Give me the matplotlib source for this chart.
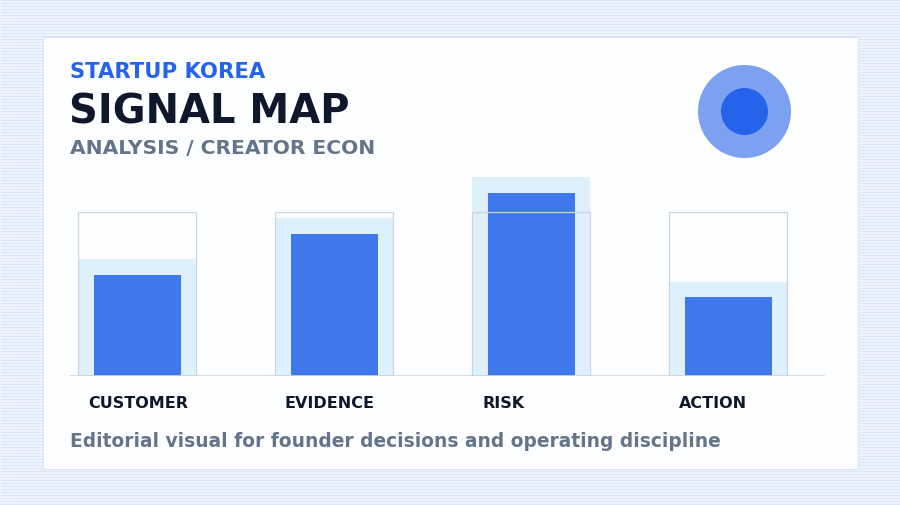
import matplotlib
matplotlib.use("Agg")
import matplotlib.pyplot as plt
from matplotlib.patches import Rectangle, Circle

plt.rcParams["font.family"] = ["DejaVu Sans"]

# ---- data ----
categories = ["CUSTOMER", "EVIDENCE", "RISK", "ACTION"]
signal = [61, 86, 111, 48]        # dark bars
band = [71, 96, 121, 57]          # light halo band
target = [100, 100, 100, 100]     # outlined frame
kicker = "STARTUP KOREA"
title = "SIGNAL MAP"
subtitle = "ANALYSIS / CREATOR ECON"
footer = "Editorial visual for founder decisions and operating discipline"

W, H = 900, 506
fig = plt.figure(figsize=(W / 100, H / 100), dpi=100)
fig.patch.set_facecolor("#f3f8fe")

def fx(px):
    return px / W

def fy(py):
    return 1 - py / H

# background stripes
bg = fig.add_axes([0, 0, 1, 1], zorder=0)
bg.set_xlim(0, W)
bg.set_ylim(H, 0)
bg.axis("off")
bg.hlines([y + 0.5 for y in range(0, H, 3)], 0, W, color="#dae8fb", lw=1.0)
# card
bg.add_patch(Rectangle((42.5, 37.5), 815, 432, facecolor="#fdfeff",
                       edgecolor="#dde6f1", lw=0.8, zorder=2))
# decorative circle
bg.add_patch(Circle((744.5, 112.5), 46.5, color="#7ba1f0", lw=0, zorder=3))
bg.add_patch(Circle((744.5, 112.5), 23.5, color="#2563eb", lw=0, zorder=4))

# texts
fig.text(fx(70), fy(77.7), kicker, color="#2563eb", fontsize=15.2,
         fontweight="bold", va="baseline", ha="left", zorder=5)
fig.text(fx(69), fy(123.5), title, color="#0f172a", fontsize=28.8,
         fontweight="bold", va="baseline", ha="left", zorder=5)
fig.text(fx(70), fy(154.2), subtitle, color="#64748b", fontsize=14.6,
         fontweight="bold", va="baseline", ha="left", zorder=5)
fig.text(fx(70), fy(447.5), footer, color="#64748b", fontsize=13.4,
         fontweight="bold", va="baseline", ha="left", zorder=5)

# bar axes
ax = fig.add_axes([fx(70), fy(376.5), fx(825) - fx(70), (376.5 - 170) / H], zorder=6)
ax.patch.set_alpha(0)
x = list(range(len(categories)))
ax.set_xlim((70 - 137) / 197, (825 - 137) / 197)
ax.set_ylim(0, (376.5 - 170) / 1.64)

frame_w = 118 / 197
dark_w = 87 / 197
ax.bar(x, band, width=frame_w, color="#dff0fd", lw=0, zorder=1)
ax.bar(x, signal, width=dark_w, color="#3e78ea", lw=0, zorder=2)
ax.bar(x, target, width=frame_w, fill=False, edgecolor="#cbd5e1", lw=0.9, zorder=3)
ax.axhline(0, color="#cbd5e1", lw=1.2, zorder=4)

for s in ax.spines.values():
    s.set_visible(False)
ax.set_xticks([])
ax.set_yticks([])

for i, c in enumerate(categories):
    ax.text(i - frame_w / 2 + 10 / 197, -(407.5 - 376.5) / 1.64, c, color="#0f172a",
            fontsize=11.5, fontweight="bold", va="baseline", ha="left",
            clip_on=False)

fig.savefig("out.png", dpi=100, facecolor=fig.get_facecolor())
